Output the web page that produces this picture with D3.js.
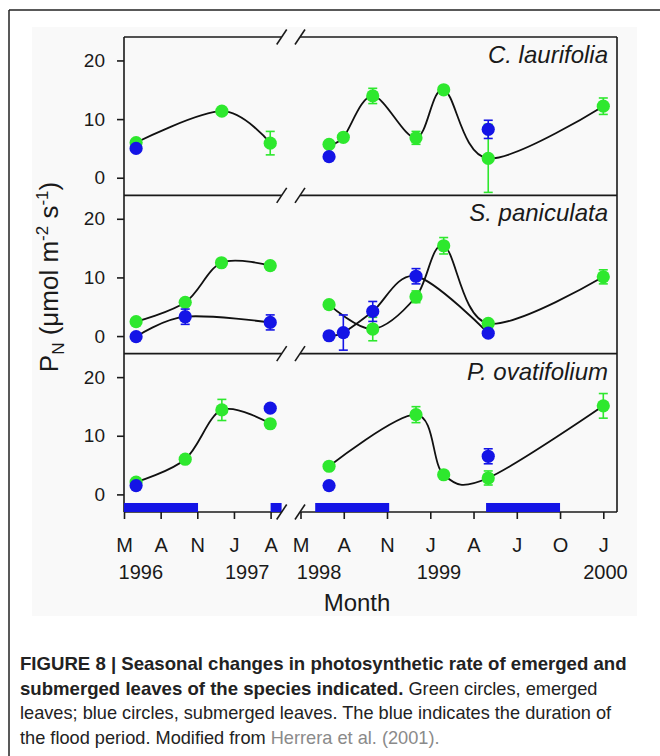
<!DOCTYPE html>
<html>
<head>
<meta charset="utf-8">
<script src="https://cdn.jsdelivr.net/npm/d3@7"></script>
<style>
body{margin:0;background:#fff;}
svg{display:block;font-family:"Liberation Sans",Arial,sans-serif;}
</style>
</head>
<body>
<script>
// ---------------- data ----------------
const species = ["C. laurifolia", "S. paniculata", "P. ovatifolium"];
const yTicks = [0, 10, 20];
const months1 = ["M", "A", "N", "J", "A"];
const months2 = ["M", "A", "N", "J", "A", "J", "O", "J"];
const yearLabels = ["1996", "1997", "1998", "1999", "2000"];
const yearSeg = [1, 1, 2, 2, 2];
const yearTick = [0.46, 3.36, 0.43, 3.2, 7.05];

// points: [segment, time (tick units), value, error]
const clEmerged = [[1,0.33,6.0,0],[1,2.67,11.35,0],[1,3.99,5.9,2.0],
  [2,0.66,5.7,0],[2,0.99,6.9,0],[2,1.67,13.95,1.3],[2,2.67,6.8,1.1],[2,3.31,15.0,0.5],[2,4.34,3.3,5.8],[2,7.0,12.2,1.4]];
const clSubmerged = [[1,0.33,5.0,0],[2,0.66,3.6,0],[2,4.34,8.25,1.55]];
const spEmerged = [[1,0.33,2.45,0],[1,1.67,5.75,0.5],[1,2.66,12.5,0.6],[1,3.99,12.0,0],
  [2,0.66,5.35,0],[2,1.67,1.2,2.0],[2,2.67,6.7,1.0],[2,3.31,15.4,1.4],[2,4.34,2.15,0.5],[2,7.0,10.1,1.2]];
const spSubmerged = [[1,0.33,-0.1,0],[1,1.67,3.3,1.3],[1,3.99,2.33,1.28],
  [2,0.66,0.05,0],[2,0.99,0.6,3.0],[2,1.67,4.2,1.7],[2,2.67,10.2,1.3],[2,4.34,0.5,0]];
const poEmerged = [[1,0.33,2.1,0],[1,1.67,6.0,0],[1,2.67,14.4,1.8],[1,3.99,12.05,0],
  [2,0.66,4.8,0],[2,2.67,13.6,1.36],[2,3.31,3.35,0],[2,4.34,2.8,1.2],[2,7.0,15.1,2.1]];
const poSubmerged = [[1,0.33,1.5,0],[1,3.99,14.7,0],[2,0.66,1.5,0],[2,4.34,6.5,1.28]];
const submergedCurve = [false, true, false];

// flood periods: [segment, start, end] in tick units
const flood = [[1,0,2.02],[1,4.0,4.3],[2,0.34,2.05],[2,4.29,6.0]];

const emerged = [clEmerged, spEmerged, poEmerged];
const submerged = [clSubmerged, spSubmerged, poSubmerged];

// ---------------- layout ----------------
const W = 660, H = 756;
const left = 124, right = 617, top0 = 37, panelH = 158.33;
const brk1 = 281.7, brk2 = 300;
const GREEN = "#2ee82e", BLUE = "#1414e6", INK = "#1a1a1a";

const svg = d3.select("body").append("svg").attr("width", W).attr("height", H);

// page frame & light chart background
svg.append("rect").attr("x", 32).attr("y", 27).attr("width", 605).attr("height", 589).attr("fill", "#f9f9f9");
svg.append("line").attr("x1", 9).attr("x2", W).attr("y1", 10).attr("y2", 10).attr("stroke", "#222").attr("stroke-width", 1.5);
svg.append("line").attr("x1", 9).attr("x2", 9).attr("y1", 10).attr("y2", H).attr("stroke", "#222").attr("stroke-width", 1.5);

const x1 = d3.scaleLinear().domain([0, 4]).range([124, 270.6]);
const x2 = d3.scaleLinear().domain([0, 7]).range([300.5, 603.3]);
const xs = s => s === 1 ? x1 : x2;

const g = svg.append("g");

// frame lines
const bottom = top0 + 3 * panelH;
g.append("line").attr("x1", left).attr("x2", left).attr("y1", top0).attr("y2", bottom).attr("stroke", INK).attr("stroke-width", 1.6);
g.append("line").attr("x1", right).attr("x2", right).attr("y1", top0).attr("y2", bottom).attr("stroke", INK).attr("stroke-width", 1.6);
for (let k = 0; k <= 3; k++) {
  const yy = top0 + k * panelH;
  g.append("line").attr("x1", left).attr("x2", brk1).attr("y1", yy).attr("y2", yy).attr("stroke", INK).attr("stroke-width", 1.6);
  g.append("line").attr("x1", brk2).attr("x2", right).attr("y1", yy).attr("y2", yy).attr("stroke", INK).attr("stroke-width", 1.6);
}

const lineGen = (xsc, y) => d3.line().x(d => xsc(d[1])).y(d => y(d[2])).curve(d3.curveCatmullRom.alpha(0));

species.forEach((name, i) => {
  const top = top0 + i * panelH;
  const y = d3.scaleLinear().domain([-3, 24]).range([top + panelH, top]);
  const pg = g.append("g");

  // y axis
  const ya = pg.append("g").attr("transform", `translate(${left},0)`)
    .call(d3.axisLeft(y).tickValues(yTicks).tickSize(7).tickPadding(12).tickSizeOuter(0));
  ya.select(".domain").remove();
  ya.selectAll("line").attr("stroke", INK).attr("stroke-width", 1.6);
  ya.selectAll("text").attr("font-size", 19).attr("fill", INK).attr("font-family", "Liberation Sans, Arial, sans-serif");

  // species label
  pg.append("text").attr("x", 608).attr("y", top + 26).attr("text-anchor", "end")
    .attr("font-size", 24).attr("font-style", "italic").attr("fill", INK).text(name);

  // flood bars (bottom panel)
  if (i === 2) {
    pg.selectAll("rect.flood").data(flood).enter().append("rect")
      .attr("x", d => xs(d[0])(d[1])).attr("width", d => xs(d[0])(d[2]) - xs(d[0])(d[1]))
      .attr("y", y(-3) - 9).attr("height", 9).attr("fill", BLUE);
  }

  // curves
  const drawCurves = (data) => {
    [1, 2].forEach(s => {
      const pts = data.filter(d => d[0] === s);
      if (pts.length > 1) pg.append("path").attr("d", lineGen(xs(s), y)(pts))
        .attr("fill", "none").attr("stroke", "#111").attr("stroke-width", 1.8);
    });
  };
  drawCurves(emerged[i]);
  if (submergedCurve[i]) drawCurves(submerged[i]);

  const drawPoints = (data, col) => {
    const eb = data.filter(d => d[3] > 0);
    const eg = pg.append("g").attr("stroke", col).attr("stroke-width", 1.6);
    eb.forEach(d => {
      const cx = xs(d[0])(d[1]);
      eg.append("line").attr("x1", cx).attr("x2", cx).attr("y1", y(d[2] - d[3])).attr("y2", y(d[2] + d[3]));
      eg.append("line").attr("x1", cx - 4.5).attr("x2", cx + 4.5).attr("y1", y(d[2] - d[3])).attr("y2", y(d[2] - d[3]));
      eg.append("line").attr("x1", cx - 4.5).attr("x2", cx + 4.5).attr("y1", y(d[2] + d[3])).attr("y2", y(d[2] + d[3]));
    });
    pg.selectAll(null).data(data).enter().append("circle")
      .attr("cx", d => xs(d[0])(d[1])).attr("cy", d => y(d[2])).attr("r", 6.6).attr("fill", col);
  };
  drawPoints(emerged[i], GREEN);
  drawPoints(submerged[i], BLUE);
});

// break slashes
for (let k = 0; k <= 3; k++) {
  const yy = top0 + k * panelH;
  [brk1, brk2].forEach(cx => {
    g.append("line").attr("x1", cx - 5).attr("x2", cx + 5).attr("y1", yy + 7.5).attr("y2", yy - 7.5)
      .attr("stroke", INK).attr("stroke-width", 1.6);
  });
}

// x axes
const xa1 = g.append("g").attr("transform", `translate(0,${bottom})`)
  .call(d3.axisBottom(x1).tickValues(d3.range(months1.length)).tickFormat((d, j) => months1[j]).tickSize(7).tickPadding(19).tickSizeOuter(0));
const xa2 = g.append("g").attr("transform", `translate(0,${bottom})`)
  .call(d3.axisBottom(x2).tickValues(d3.range(months2.length)).tickFormat((d, j) => months2[j]).tickSize(7).tickPadding(19).tickSizeOuter(0));
[xa1, xa2].forEach(a => {
  a.select(".domain").remove();
  a.selectAll("line").attr("stroke", INK).attr("stroke-width", 1.6);
  a.selectAll("text").attr("font-size", 20).attr("fill", INK).attr("font-family", "Liberation Sans, Arial, sans-serif");
});

yearLabels.forEach((lab, j) => {
  g.append("text").attr("x", xs(yearSeg[j])(yearTick[j])).attr("y", 579).attr("text-anchor", "middle")
    .attr("font-size", 20).attr("fill", INK).text(lab);
});

g.append("text").attr("x", 357).attr("y", 611).attr("text-anchor", "middle").attr("font-size", 24).attr("fill", INK).text("Month");

// y title
const yt = g.append("text").attr("transform", "translate(58,277) rotate(-90)").attr("text-anchor", "middle")
  .attr("font-size", 26).attr("fill", INK);
yt.append("tspan").text("P");
yt.append("tspan").attr("font-size", 17).attr("dy", 6).text("N");
yt.append("tspan").attr("dy", -6).text(" (\u03bcmol m");
yt.append("tspan").attr("font-size", 17).attr("dy", -10).text("-2");
yt.append("tspan").attr("dy", 10).text(" s");
yt.append("tspan").attr("font-size", 17).attr("dy", -10).text("-1");
yt.append("tspan").attr("dy", 10).text(")");

// caption
const cap = svg.append("g").attr("font-size", 18.2).attr("fill", "#222");
const c1 = cap.append("text").attr("x", 20).attr("y", 670).attr("font-weight", "bold").attr("font-size", 18.6)
  .text("FIGURE 8 | Seasonal changes in photosynthetic rate of emerged and");
const c2 = cap.append("text").attr("x", 20).attr("y", 695);
c2.append("tspan").attr("font-weight", "bold").attr("font-size", 18.6).text("submerged leaves of the species indicated.");
c2.append("tspan").text(" Green circles, emerged");
cap.append("text").attr("x", 20).attr("y", 719).text("leaves; blue circles, submerged leaves. The blue indicates the duration of");
const c4 = cap.append("text").attr("x", 20).attr("y", 744);
c4.append("tspan").text("the flood period. Modified from ");
c4.append("tspan").attr("fill", "#8a8a8a").text("Herrera et al. (2001).");
</script>
</body>
</html>
